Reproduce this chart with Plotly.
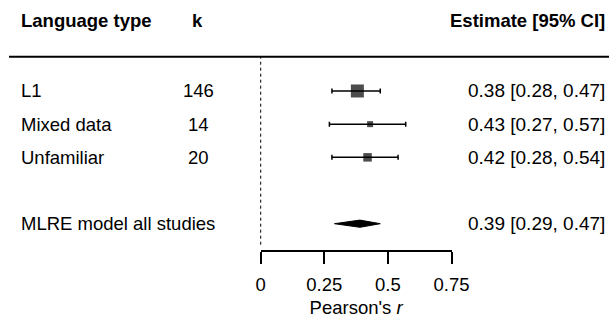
import plotly.graph_objects as go

# ---- data ----
groups = ["L1", "Mixed data", "Unfamiliar"]
k_values = [146, 14, 20]
estimates = [0.38, 0.43, 0.42]
ci_low = [0.28, 0.27, 0.28]
ci_high = [0.47, 0.57, 0.54]
overall_label = "MLRE model all studies"
overall_est = 0.39
overall_low = 0.29
overall_high = 0.47
tick_values = [0, 0.25, 0.5, 0.75]
tick_labels = ["0", "0.25", "0.5", "0.75"]

# ---- layout constants ----
W, H = 609, 329
FONT = "Liberation Sans, Arial, sans-serif"
FS = 18.5
FS_EST = 19
row_pos = [5, 4, 3]
overall_pos = 1
px_per_unit = 254.4
x0_px = 260.7
row_px = 33.18
y1_px = 223.7
x_range = [-x0_px / px_per_unit, (W - x0_px) / px_per_unit]
y_range = [1 - (H - y1_px) / row_px, 1 + y1_px / row_px]
box_sizes = [13, 6, 8.5]

fig = go.Figure()

# invisible trace on the r axis (drawn first so its subplot sits underneath)
fig.add_trace(go.Scatter(x=tick_values, y=[None] * len(tick_values), xaxis="x2",
                         mode="markers", showlegend=False, hoverinfo="skip"))

# study-group estimates
fig.add_trace(go.Scatter(
    x=estimates, y=row_pos, mode="markers",
    marker=dict(symbol="square", size=box_sizes, color="black", line=dict(width=0)),
    error_x=dict(type="data", symmetric=False,
                 array=[h - e for h, e in zip(ci_high, estimates)],
                 arrayminus=[e - l for e, l in zip(estimates, ci_low)],
                 color="black", thickness=1.5, width=2.5),
    showlegend=False, hoverinfo="skip"))

# overall diamond
dh = 3.6 / row_px
fig.add_trace(go.Scatter(
    x=[overall_low, overall_est, overall_high, overall_est, overall_low],
    y=[overall_pos, overall_pos + dh, overall_pos, overall_pos - dh, overall_pos],
    mode="lines", fill="toself", fillcolor="black",
    line=dict(color="black", width=1), showlegend=False, hoverinfo="skip"))

# reference line at zero
fig.add_shape(type="line", x0=0, x1=0, y0=1 - 21 / row_px, y1=y_range[1] - 57 / row_px,
              xref="x", yref="y", line=dict(color="black", width=1, dash="dot"))
# header rule
fig.add_shape(type="line", x0=9 / W, x1=1, y0=1 - 56.7 / H, y1=1 - 56.7 / H,
              xref="paper", yref="paper", line=dict(color="black", width=2))

def ann(text, x, y, xanchor, yref="y", bold=False, size=FS):
    fig.add_annotation(text=f"<b>{text}</b>" if bold else text, x=x, y=y,
                       xref="paper", yref=yref, xanchor=xanchor, yanchor="middle",
                       showarrow=False, font=dict(family=FONT, size=size, color="black"))

hy = 1 - 21 / H
ann("Language type", 19 / W, hy, "left", yref="paper", bold=True)
ann("k", 197 / W, hy, "center", yref="paper", bold=True)
ann("Estimate [95% CI]", 607 / W, hy, "right", yref="paper", bold=True)

for g, k, e, lo, hi, p in zip(groups, k_values, estimates, ci_low, ci_high, row_pos):
    ann(g, 19 / W, p, "left")
    ann(str(k), 198 / W, p, "center")
    ann(f"{e:.2f} [{lo:.2f}, {hi:.2f}]", 607 / W, p, "right", size=FS_EST)

ann(overall_label, 19 / W, overall_pos, "left")
ann(f"{overall_est:.2f} [{overall_low:.2f}, {overall_high:.2f}]", 607 / W, overall_pos, "right",
    size=FS_EST)

fig.update_layout(
    width=W, height=H, margin=dict(l=0, r=0, t=0, b=0, autoexpand=False),
    plot_bgcolor="rgba(0,0,0,0)", paper_bgcolor="white",
    font=dict(family=FONT, size=FS, color="black"),
    xaxis=dict(range=x_range, visible=False, domain=[0, 1], automargin=False),
    yaxis=dict(range=y_range, visible=False, domain=[0, 1], automargin=False),
    xaxis2=dict(domain=[x0_px / W, (x0_px + 0.75 * px_per_unit) / W], range=[0, 0.75],
                anchor="free", position=1 - 251 / H, automargin=False,
                showline=True, linecolor="black", linewidth=1.5,
                ticks="outside", ticklen=12, tickwidth=1.5, tickcolor="black",
                tickvals=tick_values, ticktext=tick_labels, showgrid=False, zeroline=False,
                tickfont=dict(family=FONT, size=FS, color="black"),
                ticklabelstandoff=5,
                title=dict(text="Pearson's <i>r</i>", standoff=6,
                           font=dict(family=FONT, size=FS, color="black"))),
)

fig.write_html(
    "out.html",
    config={"responsive": False, "displayModeBar": False},
    post_script="document.body.style.margin='0';document.body.style.overflow='hidden';",
)
